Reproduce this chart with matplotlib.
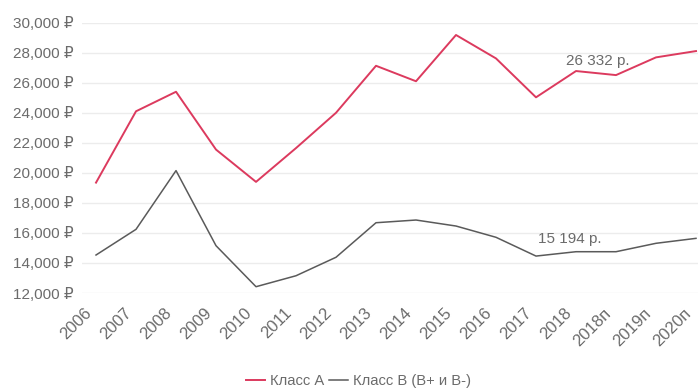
import matplotlib
matplotlib.use("Agg")
import matplotlib.pyplot as plt
from matplotlib.lines import Line2D
from matplotlib.transforms import ScaledTranslation

categories = ["2006", "2007", "2008", "2009", "2010", "2011", "2012", "2013",
              "2014", "2015", "2016", "2017", "2018", "2018п", "2019п", "2020п"]
class_a = [19350, 24100, 25400, 21550, 19400, 21650, 24000, 27130,
           26100, 29180, 27620, 25030, 26780, 26510, 27690, 28110]
class_b = [14530, 16240, 20150, 15150, 12420, 13150, 14380, 16680,
           16860, 16460, 15710, 14460, 14750, 14750, 15310, 15640]
y_ticks = [12000, 14000, 16000, 18000, 20000, 22000, 24000, 26000, 28000, 30000]
y_tick_labels = ["12,000 ₽", "14,000 ₽", "16,000 ₽", "18,000 ₽", "20,000 ₽",
                 "22,000 ₽", "24,000 ₽", "26,000 ₽", "28,000 ₽", "30,000 ₽"]
series_names = ["Класс А", "Класс В (В+ и В-)"]
annot_a = "26 332 р."
annot_b = "15 194 р."

plt.rcParams["font.family"] = ["Liberation Sans", "DejaVu Sans"]
TXT = "#6b6b6b"
RED = "#dc3a5e"
GRAY = "#5a5a5a"

fig = plt.figure(figsize=(6.98, 3.91), dpi=100)
ax = fig.add_axes([0.1175, 0.2506, 0.8825, 0.6914])

x = list(range(len(categories)))
ax.plot(x, class_a, color=RED, lw=1.4, solid_joinstyle="round")
ax.plot(x, class_b, color=GRAY, lw=1.1, solid_joinstyle="round")

ax.set_ylim(12000, 30000)
ax.set_xlim(-0.35, 15.05)
ax.set_yticks(y_ticks)
ax.set_yticklabels(y_tick_labels, color=TXT, fontsize=11)
ax.set_xticks(x)
ax.set_xticklabels(categories, rotation=45, ha="right", rotation_mode="anchor",
                   color=TXT, fontsize=12)
ax.tick_params(axis="both", length=0)
ax.tick_params(axis="y", pad=6)
ax.tick_params(axis="x", pad=9)
off = ScaledTranslation(-9 / 72, 0, fig.dpi_scale_trans)
for lab in ax.get_xticklabels():
    lab.set_transform(lab.get_transform() + off)
for s in ax.spines.values():
    s.set_visible(False)
ax.grid(axis="y", color="#ececec", lw=1.0)
ax.set_axisbelow(True)

ax.text(12.55, 27480, annot_a, color=TXT, fontsize=11, ha="center", va="center")
ax.text(11.85, 15600, annot_b, color=TXT, fontsize=11, ha="center", va="center")

handles = [Line2D([], [], color=RED, lw=1.4), Line2D([], [], color=GRAY, lw=1.1)]
fig.legend(handles, series_names, loc="center", bbox_to_anchor=(0.514, 0.026), ncol=2,
           frameon=False, fontsize=10.6, labelcolor=TXT, handlelength=1.3,
           handletextpad=0.35, columnspacing=0.3)

fig.savefig("out.png", dpi=100)
